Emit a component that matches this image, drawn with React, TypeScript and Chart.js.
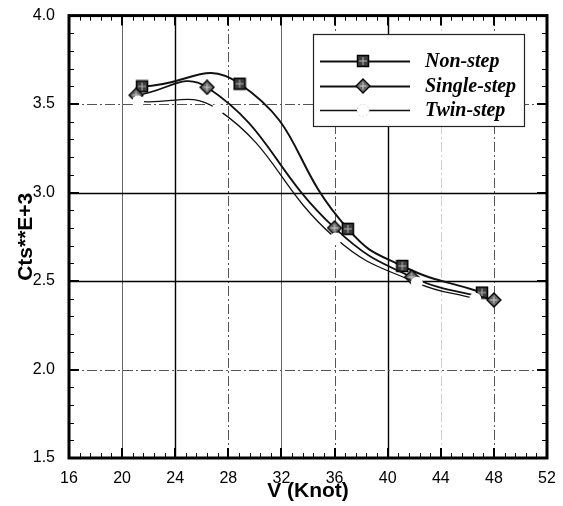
import React, { useEffect, useRef } from 'react';
import { Chart, registerables } from 'chart.js';

Chart.register(...registerables);

// ---- data ----
const seriesNames = ['Non-step', 'Single-step', 'Twin-step'];
const nonStepV = [21.5, 28.85, 37.0, 41.1, 47.1];
const nonStepC = [3.6, 3.615, 2.795, 2.585, 2.435];
const singleStepV = [21.05, 26.4, 36.0, 41.8, 48.0];
const singleStepC = [3.55, 3.595, 2.8, 2.523, 2.393];
const twinStepV = [21.2, 27.2, 36.1, 42.2, 46.6];
const twinStepC = [3.515, 3.47, 2.74, 2.49, 2.4];

const xMin = 16;
const xMax = 52;
const xStep = 4;
const xMinorStep = 0.8;
const yMin = 1.5;
const yMax = 4.0;
const yStep = 0.5;
const yMinorStep = 0.1;
const xTitle = 'V (Knot)';
const yTitle = 'Cts**E+3';

const SANS = '"Liberation Sans", Arial, Helvetica, sans-serif';
const SERIF = '"Liberation Serif", "Times New Roman", Times, serif';

function makeSquare(): HTMLCanvasElement {
  const c = document.createElement('canvas');
  c.width = 14;
  c.height = 14;
  const g = c.getContext('2d')!;
  g.fillStyle = '#3e3e3e';
  g.fillRect(1.5, 1.5, 11, 11);
  g.strokeStyle = '#000';
  g.lineWidth = 1.5;
  g.strokeRect(1.5, 1.5, 11, 11);
  g.strokeStyle = '#b8b8b8';
  g.lineWidth = 1;
  g.beginPath();
  g.moveTo(7, 3);
  g.lineTo(7, 11);
  g.moveTo(3, 7);
  g.lineTo(11, 7);
  g.stroke();
  return c;
}

function makeDiamond(): HTMLCanvasElement {
  const c = document.createElement('canvas');
  c.width = 16;
  c.height = 16;
  const g = c.getContext('2d')!;
  g.beginPath();
  g.moveTo(8, 1);
  g.lineTo(15, 8);
  g.lineTo(8, 15);
  g.lineTo(1, 8);
  g.closePath();
  g.fillStyle = '#6a6a6a';
  g.fill();
  g.strokeStyle = '#000';
  g.lineWidth = 1.3;
  g.stroke();
  g.strokeStyle = '#cfcfcf';
  g.lineWidth = 1;
  g.beginPath();
  g.moveTo(8, 4.5);
  g.lineTo(8, 11.5);
  g.moveTo(4.5, 8);
  g.lineTo(11.5, 8);
  g.stroke();
  return c;
}

type LineStyle = { color: string; width: number; dash: number[] };
const solidDark: LineStyle = { color: '#000', width: 1.4, dash: [] };
const solidThin: LineStyle = { color: '#666', width: 1, dash: [] };
const dashDot: LineStyle = { color: '#555', width: 1, dash: [10, 3, 2, 3] };
const faint: LineStyle = { color: '#d0d0d0', width: 1, dash: [10, 3, 2, 3] };

function xGridStyle(v: number): LineStyle | null {
  const r = Math.round(v);
  if (r === 20 || r === 32) return solidThin;
  if (r === 24 || r === 40) return solidDark;
  if (r === 28 || r === 36 || r === 48) return dashDot;
  if (r === 44) return faint;
  return null;
}
function yGridStyle(v: number): LineStyle | null {
  const r = Math.round(v * 10);
  if (r === 25 || r === 30) return solidDark;
  if (r === 20 || r === 35) return dashDot;
  return null;
}

const framePlugin = {
  id: 'frame',
  beforeDatasetsDraw(chart: any) {
    const { ctx, chartArea: a, scales } = chart;
    const xs = scales.x;
    const ys = scales.y;
    ctx.save();
    for (let v = xMin + xStep; v < xMax - 1e-6; v += xStep) {
      const s = xGridStyle(v);
      if (!s) continue;
      const px = Math.round(xs.getPixelForValue(v)) + 0.5;
      ctx.strokeStyle = s.color;
      ctx.lineWidth = s.width;
      ctx.setLineDash(s.dash);
      ctx.beginPath();
      ctx.moveTo(px, a.bottom);
      ctx.lineTo(px, a.top);
      ctx.stroke();
    }
    for (let v = yMin + yStep; v < yMax - 1e-6; v += yStep) {
      const s = yGridStyle(v);
      if (!s) continue;
      const py = Math.round(ys.getPixelForValue(v)) + 0.5;
      ctx.strokeStyle = s.color;
      ctx.lineWidth = s.width;
      ctx.setLineDash(s.dash);
      ctx.beginPath();
      ctx.moveTo(a.left, py);
      ctx.lineTo(a.right, py);
      ctx.stroke();
    }
    ctx.restore();
  },
  afterDatasetsDraw(chart: any) {
    const { ctx, chartArea: a, scales } = chart;
    const xs = scales.x;
    const ys = scales.y;
    ctx.save();
    ctx.setLineDash([]);
    ctx.strokeStyle = '#000';
    // x ticks (inward, bottom and top)
    const nx = Math.round((xMax - xMin) / xMinorStep);
    for (let i = 0; i <= nx; i++) {
      const v = xMin + i * xMinorStep;
      const major = i % 5 === 0;
      const len = major ? 10 : 5;
      ctx.lineWidth = major ? 2 : 1;
      const px = Math.round(xs.getPixelForValue(v)) + (major ? 0 : 0.5);
      ctx.beginPath();
      ctx.moveTo(px, a.bottom);
      ctx.lineTo(px, a.bottom - len);
      ctx.moveTo(px, a.top);
      ctx.lineTo(px, a.top + len);
      ctx.stroke();
    }
    const ny = Math.round((yMax - yMin) / yMinorStep);
    for (let i = 0; i <= ny; i++) {
      const v = yMin + i * yMinorStep;
      const major = i % 5 === 0;
      const len = major ? 10 : 5;
      ctx.lineWidth = major ? 2 : 1;
      const py = Math.round(ys.getPixelForValue(v)) + (major ? 0 : 0.5);
      ctx.beginPath();
      ctx.moveTo(a.left, py);
      ctx.lineTo(a.left + len, py);
      ctx.moveTo(a.right, py);
      ctx.lineTo(a.right - len, py);
      ctx.stroke();
    }
    // frame
    ctx.lineWidth = 3;
    ctx.strokeRect(a.left, a.top, a.right - a.left, a.bottom - a.top);

    // legend
    const bx = 313;
    const by = 34;
    const bw = 211;
    const bh = 92;
    ctx.fillStyle = '#fff';
    ctx.fillRect(bx, by, bw, bh);
    ctx.lineWidth = 1.2;
    ctx.strokeStyle = '#222';
    ctx.strokeRect(bx + 0.5, by + 0.5, bw, bh);
    const rows = [61, 86, 110];
    chart.data.datasets.forEach((ds: any, i: number) => {
      const ry = rows[i];
      ctx.strokeStyle = ds.borderColor;
      ctx.lineWidth = ds.borderWidth;
      ctx.beginPath();
      ctx.moveTo(320, ry + 0.5);
      ctx.lineTo(410, ry + 0.5);
      ctx.stroke();
      const ps = ds.pointStyle;
      if (ps && typeof ps === 'object') {
        ctx.drawImage(ps, 363 - ps.width / 2, ry - ps.height / 2);
      } else {
        ctx.beginPath();
        ctx.arc(363, ry + 0.5, ds.pointRadius, 0, Math.PI * 2);
        ctx.fillStyle = '#fff';
        ctx.fill();
        ctx.strokeStyle = '#d8d8d8';
        ctx.setLineDash([2, 2]);
        ctx.lineWidth = 1;
        ctx.stroke();
        ctx.setLineDash([]);
      }
      ctx.fillStyle = '#000';
      ctx.font = `italic bold 20px ${SERIF}`;
      ctx.textBaseline = 'middle';
      ctx.textAlign = 'left';
      ctx.fillText(ds.label, 425, ry + 1);
    });
    ctx.restore();
  },
};

export default function App() {
  const ref = useRef<HTMLCanvasElement | null>(null);

  useEffect(() => {
    const canvas = ref.current;
    if (!canvas) return;
    const square = makeSquare();
    const diamond = makeDiamond();
    const toPts = (xs: number[], ys: number[]) => xs.map((x, i) => ({ x, y: ys[i] }));

    const chart = new Chart(canvas, {
      type: 'line',
      data: {
        datasets: [
          {
            label: seriesNames[0],
            data: toPts(nonStepV, nonStepC),
            borderColor: '#111',
            borderWidth: 2,
            tension: 0.5,
            pointStyle: square as any,
            pointRadius: 7,
            order: 2,
          },
          {
            label: seriesNames[1],
            data: toPts(singleStepV, singleStepC),
            borderColor: '#111',
            borderWidth: 1.8,
            tension: 0.45,
            pointStyle: diamond as any,
            pointRadius: 8,
            order: 1,
          },
          {
            label: seriesNames[2],
            data: toPts(twinStepV, twinStepC),
            borderColor: '#111',
            borderWidth: 1.3,
            tension: 0.45,
            pointStyle: 'circle',
            pointRadius: 6,
            pointBackgroundColor: '#fff',
            pointBorderColor: 'rgba(255,255,255,0)',
            pointBorderWidth: 0,
            order: 0,
          },
        ] as any,
      },
      options: {
        responsive: false,
        animation: false,
        events: [],
        layout: { padding: { top: 14, right: 16, left: 0, bottom: 0 } },
        plugins: {
          legend: { display: false },
          tooltip: { enabled: false },
        },
        scales: {
          x: {
            type: 'linear',
            min: xMin,
            max: xMax,
            grid: { display: false },
            border: { display: false },
            ticks: {
              stepSize: xStep,
              color: '#000',
              padding: 3,
              maxRotation: 0,
              font: { family: SANS, size: 16 },
            },
            title: {
              display: true,
              text: xTitle,
              color: '#000',
              padding: { top: 0, bottom: 2 },
              font: { family: SANS, size: 21, weight: 'bold' },
            },
            afterFit: (s: any) => {
              s.height = 48;
            },
          },
          y: {
            type: 'linear',
            min: yMin,
            max: yMax,
            grid: { display: false },
            border: { display: false },
            ticks: {
              stepSize: yStep,
              color: '#000',
              padding: 6,
              font: { family: SANS, size: 16 },
              callback: (v: any) => Number(v).toFixed(1),
            },
            title: {
              display: true,
              text: yTitle,
              color: '#000',
              padding: { top: 14, bottom: 0 },
              font: { family: SANS, size: 21, weight: 'bold' },
            },
            afterFit: (s: any) => {
              s.width = 69;
            },
          },
        },
      } as any,
      plugins: [framePlugin],
    });
    return () => chart.destroy();
  }, []);

  return (
    <div style={{ position: 'fixed', left: 0, top: 0, width: 563, height: 506, background: '#fff' }}>
      <canvas ref={ref} width={563} height={506} style={{ display: 'block' }} />
    </div>
  );
}
